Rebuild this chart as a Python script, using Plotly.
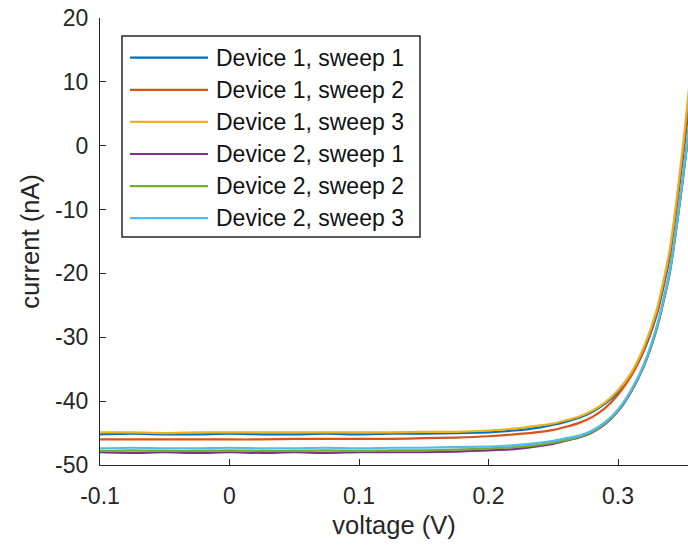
import plotly.graph_objects as go

# Sweep voltages (V)
voltage = [-0.1, -0.075, -0.05, -0.025, 0, 0.025, 0.05, 0.075, 0.1, 0.125, 0.15, 0.175,
           0.2, 0.22, 0.24, 0.25, 0.26, 0.27, 0.28, 0.29, 0.30, 0.31, 0.32, 0.33, 0.34,
           0.35, 0.36]

# Measured current (nA) for each device / sweep
d1_s1 = [-45.2, -45.1, -45.2, -45.2, -45.1, -45.2, -45.2, -45.1, -45.2, -45.1, -45.1, -45.0,
         -44.9, -44.6, -44.1, -43.7, -43.2, -42.6, -41.7, -40.4, -38.6, -36.0, -32.1, -26.4,
         -17.4, -2.0, 15.0]
d1_s2 = [-46.0, -46.0, -46.0, -46.0, -46.0, -46.0, -45.9, -45.9, -45.9, -45.9, -45.8, -45.7,
         -45.5, -45.2, -44.8, -44.5, -44.0, -43.4, -42.5, -41.1, -39.0, -36.1, -31.9, -26.0,
         -16.8, -1.2, 16.0]
d1_s3 = [-44.9, -44.9, -45.0, -44.9, -44.9, -44.9, -44.9, -44.9, -44.9, -44.9, -44.8, -44.8,
         -44.6, -44.3, -43.8, -43.5, -43.0, -42.4, -41.5, -40.2, -38.3, -35.6, -31.5, -25.6,
         -16.2, -0.3, 19.0]
d2_s1 = [-48.0, -48.1, -48.0, -48.1, -48.0, -48.1, -48.0, -48.1, -48.0, -48.0, -48.0, -47.9,
         -47.7, -47.5, -47.0, -46.7, -46.2, -45.7, -44.9, -43.6, -41.6, -38.6, -34.5, -28.6,
         -19.9, -5.5, 11.2]
d2_s2 = [-47.8, -47.7, -47.8, -47.8, -47.7, -47.8, -47.8, -47.7, -47.8, -47.7, -47.7, -47.6,
         -47.4, -47.2, -46.8, -46.5, -46.1, -45.6, -44.8, -43.5, -41.5, -38.5, -34.4, -28.5,
         -19.7, -5.3, 11.5]
d2_s3 = [-47.4, -47.3, -47.4, -47.4, -47.3, -47.4, -47.4, -47.3, -47.4, -47.3, -47.3, -47.2,
         -47.1, -46.9, -46.5, -46.2, -45.8, -45.4, -44.6, -43.3, -41.3, -38.3, -34.2, -28.2,
         -19.5, -5.0, 12.0]

names = ["Device 1, sweep 1", "Device 1, sweep 2", "Device 1, sweep 3",
         "Device 2, sweep 1", "Device 2, sweep 2", "Device 2, sweep 3"]
series = [d1_s1, d1_s2, d1_s3, d2_s1, d2_s2, d2_s3]
colors = ["#0072BD", "#D95319", "#EDB120", "#7E2F8E", "#77AC30", "#4DBEEE"]

x_ticks = [-0.1, 0, 0.1, 0.2, 0.3]
x_labels = ["-0.1", "0", "0.1", "0.2", "0.3"]
y_ticks = [-50, -40, -30, -20, -10, 0, 10, 20]
y_labels = ["-50", "-40", "-30", "-20", "-10", "0", "10", "20"]

W, H = 688, 550
ML, MR, MT, MB = 100, 0, 18, 85
PW, PH = W - ML - MR, H - MT - MB
INK = "#262626"
FONT = "Liberation Sans, Arial, Helvetica, sans-serif"


def px_x(px):
    return (px - ML) / PW


def px_y(py):
    return (H - MB - py) / PH


fig = go.Figure()
for name, ys, col in zip(names, series, colors):
    fig.add_trace(go.Scatter(x=voltage, y=ys, mode="lines", name=name,
                             line=dict(color=col, width=2.2, shape="spline", smoothing=0.6),
                             showlegend=False))

# Boxed legend with long line samples
shapes = [dict(type="rect", xref="paper", yref="paper",
               x0=px_x(122), x1=px_x(420), y0=px_y(237), y1=px_y(36),
               line=dict(color=INK, width=1.5), fillcolor="white", layer="above")]
annotations = []
for i, (name, col) in enumerate(zip(names, colors)):
    yy = px_y(57.7 + 32.1 * i)
    shapes.append(dict(type="line", xref="paper", yref="paper",
                       x0=px_x(130), x1=px_x(208), y0=yy, y1=yy,
                       line=dict(color=col, width=2.2), layer="above"))
    annotations.append(dict(xref="paper", yref="paper", x=px_x(214), y=yy,
                            text=name, showarrow=False, xanchor="left", yanchor="middle",
                            font=dict(family=FONT, size=23, color="#111111")))

fig.update_layout(
    width=W, height=H,
    margin=dict(l=ML, r=MR, t=MT, b=MB, pad=0),
    paper_bgcolor="white", plot_bgcolor="white",
    font=dict(family=FONT, color=INK),
    shapes=shapes, annotations=annotations,
    xaxis=dict(range=[-0.1, -0.1 + PW / 1295.0], tickvals=x_ticks, ticktext=x_labels,
               ticks="inside", ticklen=6, tickwidth=1.3, tickcolor=INK,
               showline=True, linecolor=INK, linewidth=1.3, mirror=False,
               showgrid=False, zeroline=False,
               tickfont=dict(size=23, color=INK), ticklabelstandoff=10,
               title=dict(text="voltage (V)", font=dict(size=25.5, color=INK), standoff=8)),
    yaxis=dict(range=[-50, 20], tickvals=y_ticks, ticktext=y_labels,
               ticks="inside", ticklen=6, tickwidth=1.3, tickcolor=INK,
               showline=True, linecolor=INK, linewidth=1.3, mirror=False,
               showgrid=False, zeroline=False,
               tickfont=dict(size=23, color=INK), ticklabelstandoff=6,
               title=dict(text="current (nA)", font=dict(size=25.5, color=INK), standoff=8)),
)

fig.write_html("out.html")
